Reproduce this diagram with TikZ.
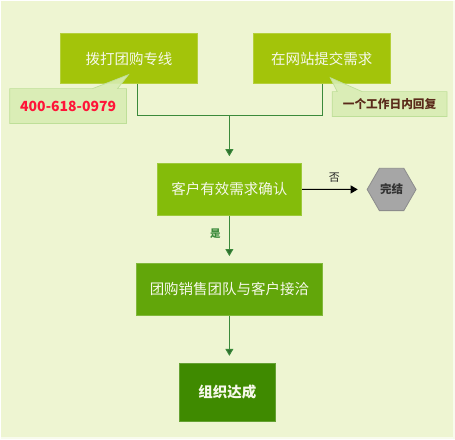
\documentclass[tikz,border=0pt]{standalone}
\usepackage{fontspec}
\setmainfont{Noto Sans CJK SC}
\usetikzlibrary{shapes.geometric,arrows.meta}
\definecolor{bg}{HTML}{EEF5D2}
\definecolor{cA}{HTML}{A3C40A}
\definecolor{cB}{HTML}{84BC0A}
\definecolor{cC}{HTML}{62A60A}
\definecolor{cD}{HTML}{3F8A00}
\definecolor{callfill}{HTML}{D8EDB3}
\definecolor{calldraw}{HTML}{BEDF98}
\definecolor{lineg}{HTML}{3B8A3B}
\definecolor{txtw}{HTML}{F6F8EA}
\definecolor{redt}{HTML}{FF1438}
\definecolor{brownt}{HTML}{5A2A1A}
\tikzset{
  box/.style={rectangle, draw=#1!80!white, line width=0.6pt, fill=#1, text=txtw, font=\fontsize{14.5}{16}\selectfont, inner sep=0pt},
  conn/.style={draw=lineg, line width=0.9pt},
  arr/.style={conn, -{Triangle[length=7pt,width=8pt,fill=lineg!80!black]}, shorten >=7pt},
  call/.style={fill=callfill, draw=calldraw, line width=0.7pt, fill opacity=0.9}
}
\begin{document}
\begin{tikzpicture}[x=1pt,y=-1pt]
\fill[bg] (0,0) rectangle (455,439);
\draw[white!60!bg, line width=1.5pt] (454.2,0) -- (454.2,438.2) -- (0,438.2);
\useasboundingbox (0,0) rectangle (455,439);

\node[box=cA, minimum width=137pt, minimum height=50pt] (b1) at (128.5,58) {拨打团购专线};
\node[box=cA, minimum width=137pt, minimum height=50pt] (b2) at (321.5,58) {在网站提交需求};
\node[box=cB, minimum width=145pt, minimum height=52pt] (b3) at (229,189) {客户有效需求确认};
\node[box=cC, minimum width=187pt, minimum height=52pt] (b4) at (229,289) {团购销售团队与客户接洽};
\node[box=cD, minimum width=96pt, minimum height=58pt, font=\fontsize{14.5}{16}\selectfont\bfseries] (b5) at (227,392) {组织达成};
\node[regular polygon, regular polygon sides=6, fill=black!35, draw=black!45, line width=0.8pt, minimum size=49pt, inner sep=0pt, font=\fontsize{11.5}{13}\selectfont\bfseries, text=black!80] (hx) at (391.5,189) {完结};

% callouts
\draw[call] (9,88) -- (92,88) -- (128,74) -- (117,88) -- (126,88) -- (126,123) -- (9,123) -- cycle;
\node[font=\fontsize{14}{16}\selectfont\bfseries, text=redt] (t1) at (67.5,106) {400-618-0979};
\draw[call] (332,91) -- (337,91) -- (330,77) -- (362,91) -- (447,91) -- (447,116) -- (332,116) -- cycle;
\node[font=\fontsize{11.7}{13}\selectfont\bfseries, text=brownt] (t2) at (389.5,103.5) {一个工作日内回复};

% connectors
\coordinate (j) at (229,115);
\draw[conn] ([xshift=8.5pt]b1.south) |- (j);
\draw[conn] ([xshift=0.5pt]b2.south) |- (j);
\draw[arr] (j) -- (b3.north);
\draw[arr] (b3.south) -- node[pos=0.38, left=5pt, font=\fontsize{10.5}{12}\selectfont\bfseries, text=lineg] {是} (b4.north);
\draw[arr] (b4.south) -- (b4.south |- b5.north);
\draw[line width=0.9pt, -{Triangle[length=7pt,width=8pt]}, shorten >=9pt] (b3.east) -- node[above=3pt, font=\fontsize{11}{12}\selectfont, text=black!85] {否} (hx.west);
\end{tikzpicture}
\end{document}
